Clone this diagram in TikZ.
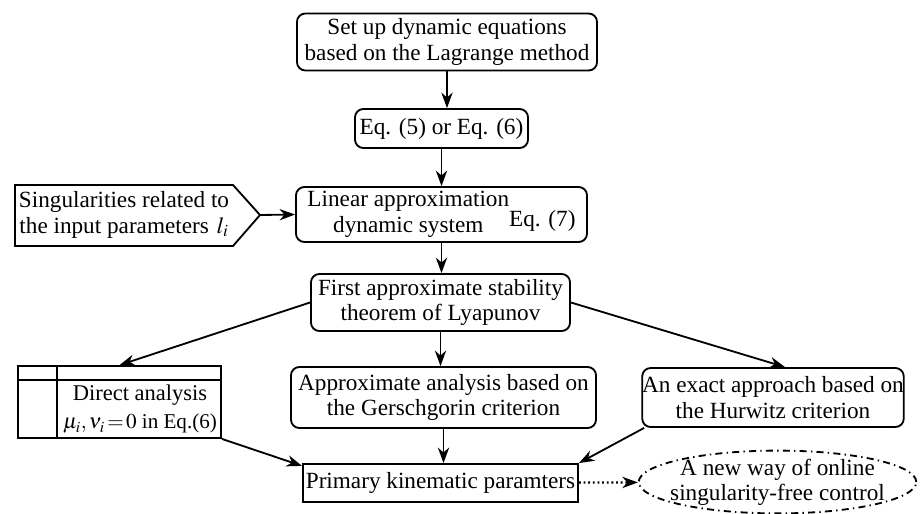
\documentclass[tikz,border=0pt]{standalone}
\usepackage{mathptmx}
\usepackage{fontspec}
\setmainfont{Liberation Serif}
\usetikzlibrary{positioning,arrows.meta,shapes.geometric}

\begin{document}
\begin{tikzpicture}[x=0.025cm,y=-0.025cm,
	font=\fontsize{16.5pt}{18pt}\selectfont,
	rbox/.style={draw,line width=1.3pt,rounded corners=6pt,align=center,inner sep=0pt},
	sbox/.style={draw,line width=1.3pt,align=center,inner sep=0pt},
	arr/.style={-{Stealth[length=11pt,width=8pt,inset=3.5pt]},line width=1.3pt}]

\useasboundingbox (0,0) rectangle (920,513);

\node[rbox,minimum width=7.5cm,minimum height=1.425cm] (setup) at (447,42) {Set up dynamic equations\\based on the Lagrange method};
\node[rbox,minimum width=4.325cm,minimum height=0.975cm] (eqs) at (441.5,128.5) {Eq. (5) or Eq. (6)};
\node[rbox,minimum width=7.275cm,minimum height=1.375cm] (linear) at (441.5,214.5) {\begin{tabular}{@{}c@{}}Linear approximation\\dynamic system\end{tabular}\raisebox{-0.25em}{Eq. (7)}};
\node[rbox,minimum width=6.475cm,minimum height=1.425cm] (lyap) at (440.5,302.5) {First approximate stability\\theorem of Lyapunov};
\node[rbox,minimum width=7.625cm,minimum height=1.525cm] (gersch) at (443.5,397.5) {Approximate analysis based on\\the Gerschgorin criterion};
\node[rbox,minimum width=6.4cm,minimum height=1.475cm] (hurw) at (773,397.5) {An exact approach based on\\the Hurwitz criterion};
\node[sbox,minimum width=6.875cm,minimum height=0.95cm] (prim) at (440.5,483) {Primary kinematic paramters};
\node[draw,ellipse,line width=1.3pt,dash pattern=on 5pt off 3pt on 1pt off 3pt,align=center,inner xsep=-6.5pt,inner ysep=-0.8pt] (online) at (777.5,482) {A new way of online\\singularity-free control};

% input singularities
\draw[line width=1.3pt] (15,185) -- (233,185) -- (260,215) -- (233,246) -- (15,246) -- cycle;
\coordinate (stip) at (260,215);
\node[align=center] (sing) at (124,215) {Singularities related to\\the input parameters\,\,$l_i$};

% direct analysis table
\node[sbox,minimum width=5.075cm,minimum height=1.8cm] (table) at (119.5,402) {};
\draw[line width=1.3pt] ([yshift=-0.375cm]table.north west) -- ([yshift=-0.375cm]table.north east);
\draw[line width=1.3pt] ([xshift=1cm]table.north west) -- ([xshift=1cm]table.south west);
\node[align=center,font=\fontsize{16pt}{20pt}\selectfont] (direct) at (140,409.5) {Direct analysis\\{\fontsize{15pt}{20pt}\selectfont$\mu_i{,}\,\nu_i\,{=}\,0$ in Eq.(6)}};

\draw[arr] (setup.south) -- (setup.south |- eqs.north);
\draw[arr] (eqs) -- (eqs |- linear.north);
\draw[arr] (stip) -- (linear.west);
\draw[arr] (linear) -- (linear |- lyap.north);
\draw[arr] (lyap) -- (lyap |- gersch.north);
\draw[arr] (lyap.west) -- (table.north);
\draw[arr] (lyap.east) -- ([xshift=0.3cm]hurw.north);
\draw[arr] (table.south east) -- ([yshift=-2pt]prim.north west);
\draw[arr] (gersch) -- (gersch |- prim.north);
\draw[arr] ([xshift=2pt]hurw.south west) -- (prim.north east);
\draw[arr,dotted,line width=1.6pt] (prim) -- (online);

\end{tikzpicture}
\end{document}
